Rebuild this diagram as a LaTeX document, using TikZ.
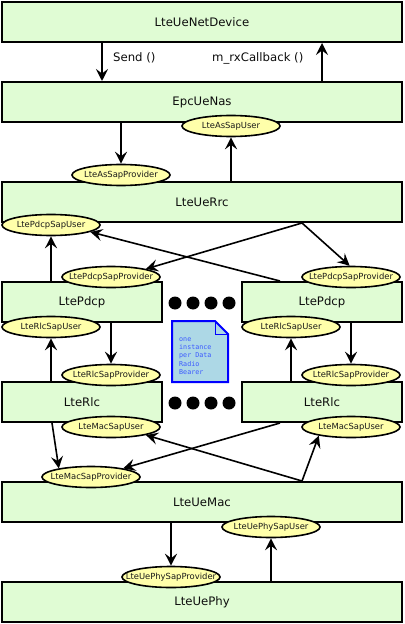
\documentclass[tikz,border=0pt]{standalone}
\usepackage{fontspec}
\setmainfont{DejaVu Sans}
\newfontfamily\notefont{DejaVu Sans Mono}
\usetikzlibrary{shapes.geometric,arrows.meta}
\definecolor{boxgreen}{RGB}{224,252,212}
\definecolor{sapyellow}{RGB}{255,255,170}
\definecolor{notefill}{RGB}{173,216,230}
\definecolor{noteblue}{RGB}{0,0,255}
\definecolor{notetext}{RGB}{60,90,255}
\newcommand\zw[1]{\makebox[0pt]{#1}}
\begin{document}
\begin{tikzpicture}[x=1bp,y=-1bp,
 layer/.style={draw=black,line width=2bp,fill=boxgreen,minimum width=400bp,minimum height=40bp,inner sep=0pt,font=\fontsize{11.7bp}{13bp}\selectfont,text=black!95},
 halfbox/.style={layer,minimum width=160bp},
 sap/.style={ellipse,draw=black,line width=1.6bp,fill=sapyellow,minimum width=98bp,minimum height=21bp,inner sep=0pt,font=\fontsize{8.4bp}{10bp}\selectfont,text=black!90},
 arr/.style={line width=1.6bp,-{Stealth[length=12bp,width=12bp,inset=4.5bp]}},
 dot/.style={circle,fill=black,minimum size=13bp,inner sep=0pt},
 notetxt/.style={anchor=base west,inner sep=0pt,font=\notefont\fontsize{6.7bp}{8.3bp}\selectfont,text=notetext},
 lbl/.style={anchor=base west,inner sep=0pt,font=\fontsize{11.7bp}{13bp}\selectfont,text=black!95}
]
\useasboundingbox (0,0) rectangle (404,624);
\fill[white] (0,0) rectangle (404,624);

% layers
\node[layer] (netdev) at (202,22) {LteUeNetDevice};
\node[layer] (nas) at (202,102) {EpcUeNas};
\node[layer] (rrc) at (202,202) {LteUeRrc};
\node[halfbox] (pdcpL) at (82,302) {LtePdcp};
\node[halfbox] (pdcpR) at (322,302) {LtePdcp};
\node[halfbox] (rlcL) at (82,402) {LteRlc};
\node[halfbox] (rlcR) at (322,402) {LteRlc};
\node[layer] (mac) at (202,502) {LteUeMac};
\node[layer] (phy) at (202,602) {LteUePhy};

% SAPs
\node[sap] (asuser) at (231,126) {\zw{LteAsSapUser}};
\node[sap] (asprov) at (121,175) {\zw{LteAsSapProvider}};
\node[sap] (pdcpuser) at (51,225) {\zw{LtePdcpSapUser}};
\node[sap] (pdcpprovL) at (111,277) {\zw{LtePdcpSapProvider}};
\node[sap] (pdcpprovR) at (351,277) {\zw{LtePdcpSapProvider}};
\node[sap] (rlcuserL) at (51,327) {\zw{LteRlcSapUser}};
\node[sap] (rlcuserR) at (291,327) {\zw{LteRlcSapUser}};
\node[sap] (rlcprovL) at (111,375) {\zw{LteRlcSapProvider}};
\node[sap] (rlcprovR) at (351,375) {\zw{LteRlcSapProvider}};
\node[sap] (macuserL) at (111,427) {\zw{LteMacSapUser}};
\node[sap] (macuserR) at (351,427) {\zw{LteMacSapUser}};
\node[sap] (macprov) at (91,477) {\zw{LteMacSapProvider}};
\node[sap] (phyuser) at (271,527) {\zw{LteUePhySapUser}};
\node[sap] (phyprov) at (171,577) {\zw{LteUePhySapProvider}};

% labels
\node[lbl] (sendlbl) at (113,61.5) {Send ()};
\node[lbl] (rxlbl) at (212,61.5) {m\_rxCallback ()};

% arrows
\draw[arr] ([xshift=-100bp]netdev.south) -- ([xshift=-100bp]nas.north);
\draw[arr] ([xshift=120bp]nas.north) -- ([xshift=120bp]netdev.south);
\draw[arr] (nas.south -| asprov.north) -- (asprov.north);
\draw[arr] (rrc.north -| asuser.south) -- (asuser.south);
\draw[arr] (pdcpL.north -| pdcpuser.south) -- (pdcpuser.south);
\draw[arr] ([xshift=100bp]rrc.south) -- (pdcpprovL.13);
\draw[arr] ([xshift=100bp]rrc.south) -- (pdcpprovR.97);
\draw[arr] ([xshift=-42bp]pdcpR.north) -- (pdcpuser.-10);
\draw[arr] (pdcpL.south -| rlcprovL.north) -- (rlcprovL.north);
\draw[arr] (rlcL.north -| rlcuserL.south) -- (rlcuserL.south);
\draw[arr] (pdcpR.south -| rlcprovR.north) -- (rlcprovR.north);
\draw[arr] (rlcR.north -| rlcuserR.south) -- (rlcuserR.south);
\draw[arr] ([xshift=-30bp]rlcL.south) -- (macprov.165);
\draw[arr] ([xshift=-42bp]rlcR.south) -- (macprov.15);
\draw[arr] ([xshift=100bp]mac.north) -- (macuserL.-13);
\draw[arr] ([xshift=100bp]mac.north) -- (macuserR.195);
\draw[arr] (mac.south -| phyprov.north) -- (phyprov.north);
\draw[arr] (phy.north -| phyuser.south) -- (phyuser.south);

% dots
\foreach \i/\x in {1/175,2/193,3/211,4/229}{
  \node[dot] (dA\i) at (\x,303) {};
  \node[dot] (dB\i) at (\x,403) {};
}

% note
\draw[noteblue,line width=2bp,fill=notefill] (172,321) -- (215,321) -- (228,334) -- (228,382) -- (172,382) -- cycle;
\draw[noteblue,line width=1bp] (215,321) -- (215,334) -- (228,334);
\node[notetxt] (n1) at (179,341) {one};
\node[notetxt] (n2) at (179,349.3) {instance};
\node[notetxt] (n3) at (179,357.7) {per Data};
\node[notetxt] (n4) at (179,366) {Radio};
\node[notetxt] (n5) at (179,374.3) {Bearer};
\end{tikzpicture}
\end{document}
